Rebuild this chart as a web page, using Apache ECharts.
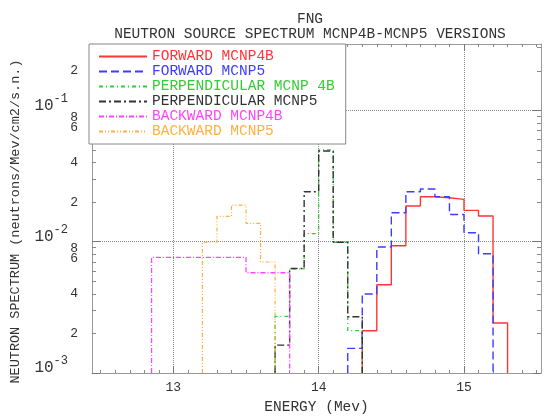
<!DOCTYPE html>
<html><head><meta charset="utf-8">
<script src="https://cdn.jsdelivr.net/npm/echarts@6/dist/echarts.min.js"></script>
<style>html,body{margin:0;padding:0;background:#fff}#c{width:545px;height:420px}</style>
</head><body><div id="c"></div>
<script>
// ---- data (bin edges in MeV, values in neutrons/MeV/cm2/s.n.) ----
const seriesNames = ['FORWARD MCNP4B','FORWARD MCNP5','PERPENDICULAR MCNP 4B','PERPENDICULAR MCNP5','BACKWARD MCNP4B','BACKWARD MCNP5'];
const fwd4bEdges  = [14.3,14.4,14.5,14.6,14.7,14.8,14.9,15.0,15.1,15.2,15.3];
const fwd4bValues = [0.0021,0.0047,0.0093,0.0187,0.022,0.0216,0.021,0.0173,0.0157,0.0024];
const fwd5Edges   = [14.2,14.3,14.4,14.5,14.6,14.7,14.8,14.9,15.0,15.1,15.2];
const fwd5Values  = [0.00154,0.0040,0.0091,0.0166,0.024,0.0252,0.022,0.0161,0.0117,0.0081];
const perp4bEdges = [13.7,13.8,13.9,14.0,14.1,14.2,14.3];
const perp4bValues= [0.0027,0.0062,0.0115,0.050,0.0099,0.0021];
const perp5Edges  = [13.7,13.8,13.9,14.0,14.1,14.2,14.3];
const perp5Values = [0.00163,0.00625,0.024,0.049,0.0099,0.00268];
const back4bEdges = [12.85,13.5,13.8];
const back4bValues= [0.0076,0.0058];
const back5Edges  = [13.2,13.3,13.4,13.5,13.6,13.7];
const back5Values = [0.0099,0.0156,0.019,0.0138,0.0070];

const xMajorTicks = [13,14,15];
const xMinorTicks = [12.5,12.6,12.7,12.8,12.9,13.1,13.2,13.3,13.4,13.5,13.6,13.7,13.8,13.9,14.1,14.2,14.3,14.4,14.5,14.6,14.7,14.8,14.9,15.1,15.2,15.3,15.4,15.5];
const yDecades = [0.001,0.01,0.1];
const yLabelValues = [0.001,0.002,0.004,0.006,0.008,0.01,0.02,0.04,0.06,0.08,0.1,0.2];
const yMinorTicks = [0.002,0.003,0.004,0.005,0.006,0.007,0.008,0.009,0.02,0.03,0.04,0.05,0.06,0.07,0.08,0.09,0.2,0.3];
const xMin = 12.44, xMax = 15.53, yMinVal = 0.001, yMaxVal = 0.32;

const colors = ['#ff3535','#3c3cff','#33cc33','#333333','#ff44ff','#ffb040'];
const dashes = ['solid',[8,4],[4,3,1,3],[7,3,2,3],[5,2,1,2],[4,2,1,2,1,2]];
const widths = [1.4,1.4,1.3,1.4,1.3,1.2];
const FONT = 'Liberation Mono';

const L = v => Math.log10(v);
function stepData(edges, values){
  const pts = [[edges[0], L(yMinVal)]];
  values.forEach((v,i)=>pts.push([edges[i], L(v)]));
  pts.push([edges[edges.length-1], L(yMinVal)]);
  return pts;
}
const allEdges = [fwd4bEdges,fwd5Edges,perp4bEdges,perp5Edges,back4bEdges,back5Edges];
const allValues = [fwd4bValues,fwd5Values,perp4bValues,perp5Values,back4bValues,back5Values];

const series = seriesNames.map((n,i)=>({
  name:n, type:'line', step:'end', showSymbol:false, symbol:'none',
  data: stepData(allEdges[i], allValues[i]),
  lineStyle:{color:colors[i], width:widths[i], type:dashes[i]},
  itemStyle:{color:colors[i]}, z:3
}));

function yFmt(v){
  const e = Math.floor(v + 1e-9);
  const m = Math.round(Math.pow(10, v - e));
  if (m === 1) return '{b|10}{e|' + e + '}';
  if (m === 8) return '{m8|8}';
  if (m === 6) return '{m6|6}';
  return '{m|' + m + '}';
}
const axisGray = '#999';
const lab = {fontFamily:FONT, color:'#333'};

const chart = echarts.init(document.getElementById('c'), null, {renderer:'canvas'});
chart.setOption({
  animation:false,
  backgroundColor:'#fff',
  title:{text:'FNG\nNEUTRON SOURCE SPECTRUM MCNP4B-MCNP5 VERSIONS', left:305, top:7, textAlign:'center',
    textStyle:{fontFamily:FONT, fontSize:14.5, fontWeight:'normal', color:'#333', lineHeight:15}},
  legend:{orient:'vertical', left:89, top:44, itemWidth:48, itemHeight:10, itemGap:0,
    padding:[5,11,5,9], backgroundColor:'#fff', borderColor:'#888', borderWidth:1,
    itemStyle:{opacity:0},
    textStyle:{fontFamily:FONT, fontSize:14.5, lineHeight:15},
    data: seriesNames.map((n,i)=>({name:n, textStyle:{color:colors[i]}})), z:10},
  grid:{left:89, right:4, top:44, bottom:39},
  xAxis:[
    {type:'value', min:xMin, max:xMax, position:'bottom',
     axisLine:{show:true, lineStyle:{color:axisGray}},
     axisTick:{show:true, inside:true, length:7, customValues:xMajorTicks, lineStyle:{color:'#777'}},
     axisLabel:Object.assign({customValues:xMajorTicks, fontSize:13, margin:8}, lab),
     splitLine:{show:true, lineStyle:{type:'dotted', color:'#888'}},
     name:'ENERGY (Mev)', nameLocation:'middle', nameGap:27,
     nameTextStyle:{fontFamily:FONT, fontSize:14.5, color:'#333'}},
    {type:'value', min:xMin, max:xMax, position:'bottom', axisLine:{show:false},
     axisTick:{show:true, inside:true, length:3, customValues:xMinorTicks, lineStyle:{color:'#888'}},
     axisLabel:{show:false}, splitLine:{show:false}},
    {type:'value', min:xMin, max:xMax, position:'top', axisLine:{show:true, lineStyle:{color:axisGray}},
     axisTick:{show:true, inside:true, length:7, customValues:xMajorTicks, lineStyle:{color:'#777'}},
     axisLabel:{show:false}, splitLine:{show:false}},
    {type:'value', min:xMin, max:xMax, position:'top', axisLine:{show:false},
     axisTick:{show:true, inside:true, length:3, customValues:xMinorTicks, lineStyle:{color:'#888'}},
     axisLabel:{show:false}, splitLine:{show:false}}
  ],
  yAxis:[
    {type:'value', min:L(yMinVal), max:L(yMaxVal), position:'left',
     axisLine:{show:true, lineStyle:{color:axisGray}},
     axisTick:{show:true, inside:true, length:8, customValues:yDecades.map(L), lineStyle:{color:'#777'}},
     axisLabel:{customValues:yLabelValues.map(L), formatter:yFmt, margin:14,
       rich:{
         b:{fontFamily:FONT, fontSize:16, color:'#333', padding:[0,0,10,0]},
         e:{fontFamily:FONT, fontSize:12, color:'#333', padding:[0,10,24,0]},
         m:{fontFamily:FONT, fontSize:13, color:'#333'},
         m8:{fontFamily:FONT, fontSize:13, color:'#333', padding:[0,0,12,0]},
         m6:{fontFamily:FONT, fontSize:13, color:'#333', padding:[0,0,24,0]}
       }},
     splitLine:{show:true, lineStyle:{type:'dotted', color:'#888'}},
     name:'NEUTRON SPECTRUM (neutrons/Mev/cm2/s.n.)', nameLocation:'middle', nameGap:70,
     nameTextStyle:{fontFamily:FONT, fontSize:13.5, color:'#333', padding:[0,26,0,0]}},
    {type:'value', min:L(yMinVal), max:L(yMaxVal), position:'left', axisLine:{show:false},
     axisTick:{show:true, inside:true, length:4, customValues:yMinorTicks.map(L), lineStyle:{color:'#888'}},
     axisLabel:{show:false}, splitLine:{show:false}},
    {type:'value', min:L(yMinVal), max:L(yMaxVal), position:'right',
     axisLine:{show:true, lineStyle:{color:axisGray}},
     axisTick:{show:true, inside:true, length:8, customValues:yDecades.map(L), lineStyle:{color:'#777'}},
     axisLabel:{show:false}, splitLine:{show:false}},
    {type:'value', min:L(yMinVal), max:L(yMaxVal), position:'right', axisLine:{show:false},
     axisTick:{show:true, inside:true, length:4, customValues:yMinorTicks.map(L), lineStyle:{color:'#888'}},
     axisLabel:{show:false}, splitLine:{show:false}}
  ],
  series: series
});
</script></body></html>
